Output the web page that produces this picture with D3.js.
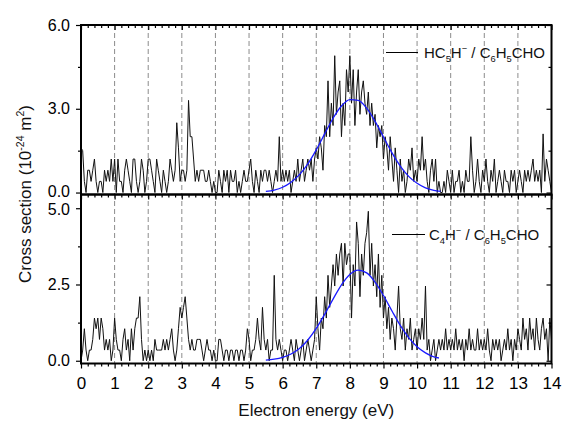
<!DOCTYPE html>
<html lang="en">
<head>
<meta charset="UTF-8">
<title>Cross section vs electron energy</title>
<script src="https://d3js.org/d3.v7.min.js"></script>
<style>
  body { margin: 0; background: white; }
  svg { font-family: "Liberation Sans", Arial, sans-serif; }
</style>
</head>
<body>
<svg id="chart" width="563" height="421"></svg>
<script>
// energy grid: 0 .. 14 eV, 0.05 eV per channel
const eStep = 0.05;

// HC5H- / C6H5CHO (upper panel), one row per eV
const topSignal = [
  1.6,1.5,0.4,0,0.8,0.8,0.4,0.8,1.2,0.4,0,0.4,0.4,0,0.8,0.4,0.8,0.4,1.2,0.4,
  1.2,0,1.2,0.4,0.4,0,0.8,1.2,0.8,0.4,0,1.2,1.2,0.4,0,0.4,1.2,0.8,0,0.4,
  1.2,1.2,0.8,0.4,0,1.2,0.8,0.4,0,0.8,0.4,0,0.4,1.2,0.8,0.4,0.8,2.5,1.6,0.4,
  0.8,0.8,0.4,0.8,3.3,2.0,2.0,1.2,0.4,0.8,0.4,0.8,0.8,0.8,0.4,0.4,0.8,0.4,0,0.4,
  0,0,0.8,0.4,0,0.8,0.4,0.8,0,0.8,0.4,0.4,0.8,0,0.4,0,0.4,0.8,0.4,0.4,
  0.8,1.2,0.4,0,0.8,0.4,0,0.8,0.4,0.8,0.8,0.4,0.8,0.4,0,0.4,0.8,0.4,2.0,0.4,
  0.8,0.4,0.8,0.4,0.8,0,0.4,0.8,0.4,1.2,0.4,0.8,1.2,0.4,0.8,1.2,0.8,1.2,0.4,1.2,
  1.6,1.2,2.0,1.6,0.8,2.4,2.0,4.0,2.0,3.2,2.4,4.9,2.8,3.6,4.0,2.0,3.2,2.4,4.4,3.6,
  4.9,3.2,4.4,2.4,3.6,4.4,2.8,3.6,4.0,3.2,2.8,3.6,2.4,3.2,2.4,2.8,1.6,2.4,2.0,2.4,
  1.2,2.0,1.6,0.8,2.0,1.2,0.4,1.6,0.8,0,1.2,0.4,0.8,0,0.4,1.2,0.8,1.6,0.4,0.8,
  0.4,1.2,0.8,2.0,0.8,1.2,0.4,0,0.8,1.2,0.4,1.2,0,0.4,0,0,0.4,0,0.8,0.4,
  0,0.8,0,0.4,0.4,0.8,0,0.4,0,0.8,0.4,0.4,2.0,0.8,0,0.4,1.2,0.4,0,0.8,
  0.4,1.2,0.4,0,0.8,0.4,1.2,0,0.4,0.8,0.4,0,0.8,0.4,0.4,0,0.8,0.4,0.8,0,
  0.4,0.8,0.4,0,0.8,0.4,0.8,0.4,0.8,1.2,0.4,0.8,0.4,0.8,0,2.1,0.4,1.2,0.8,0.4,
  0
];

// C4H- / C6H5CHO (lower panel)
const bottomSignal = [
  0,0.35,1.05,0.35,0,0.35,0.35,0.7,1.4,1.05,1.4,0.7,1.4,1.05,0.35,0.7,0.35,0.7,0,0.35,
  1.4,0.7,0.35,0.35,0,0.7,1.05,0.35,0.7,0,1.05,0.35,1.05,1.4,1.4,2.1,0.7,0,0.35,0,
  0.35,0,0.35,0,0.7,0.35,0.35,0.35,0.35,0.7,0.35,0.7,0.35,0.7,1.05,0.35,0,0.35,1.05,1.75,
  1.4,1.75,2.1,1.4,0.7,0.35,0.7,0.35,0.35,0.7,0.7,0.7,0.35,0,0.35,0.7,0.35,0.35,0,0.35,
  0,0,0.7,0.7,0.35,0,0.35,0.35,0,0.35,0.35,0,0.35,0.35,0,0.35,0.35,0,0.35,1.05,
  0.7,0,0.35,0.35,0.7,1.4,0.7,0.35,1.75,0.7,0.35,0.7,0,0.35,0.35,2.8,0.7,0.35,0.7,0.35,
  0,0.35,0.35,0,0.35,0.7,0.35,0,0.7,0.35,0,0.35,0.7,0,0.35,0.7,0.35,0,0.35,0.7,
  2.1,1.05,0.35,1.4,1.05,2.1,1.4,2.8,1.75,2.45,3.15,2.45,3.5,2.8,3.5,3.85,2.45,3.85,3.15,3.5,
  3.5,1.4,3.15,2.45,4.55,3.85,2.1,3.5,2.8,3.85,4.2,4.9,2.8,3.85,2.45,3.15,2.1,3.5,1.75,2.8,
  1.4,2.1,1.05,1.75,0.7,1.4,1.05,0.35,1.4,2.45,1.05,0.7,1.4,0.35,1.05,0.7,1.4,0.35,0.7,1.05,
  0.35,1.05,0.7,1.4,0.7,2.45,0.35,0.7,0,0.35,0.7,0,0.35,0.7,0.35,0.7,0.35,1.05,0.35,0.7,
  0.35,0.7,0.35,1.05,0.35,0.7,0.35,0.7,0,0.7,0.35,1.05,0.35,0.7,0.35,0.35,1.05,0.35,0.7,0.35,
  0.7,0.35,1.05,0.35,0,0.7,0.35,0.7,0.35,0.7,0,0.35,0.7,0.35,1.05,0.35,0.7,0,0.7,0.35,
  1.05,0.7,0.35,1.4,0.7,1.05,0.35,1.4,0.7,1.05,0.35,1.4,0.7,0.35,1.05,1.4,0.7,1.05,0,1.4,
  0.7
];

// gaussian fits (blue)
const topFitE = [5.5,5.75,6,6.25,6.5,6.75,7,7.25,7.5,7.75,8,8.25,8.5,8.75,9,9.25,9.5,9.75,10,10.25,10.5,10.7];
const topFitY = [0.04,0.09,0.19,0.37,0.64,1.03,1.53,2.10,2.66,3.10,3.33,3.30,3.02,2.55,1.99,1.43,0.95,0.58,0.33,0.17,0.08,0.04];
const bottomFitE = [5.5,5.75,6,6.25,6.5,6.75,7,7.25,7.5,7.75,8,8.25,8.5,8.75,9,9.25,9.5,9.75,10,10.25,10.5,10.65];
const bottomFitY = [0.02,0.05,0.11,0.22,0.40,0.68,1.06,1.52,2.02,2.49,2.83,2.97,2.88,2.58,2.14,1.64,1.16,0.76,0.46,0.26,0.13,0.09];

const xTicks = [0,1,2,3,4,5,6,7,8,9,10,11,12,13,14];
const gridE = [1,2,3,4,5,6,7,8,9,10,11,12,13];
const topYTicks = [0, 3, 6];
const topYMinor = [1.5, 4.5];
const bottomYTicks = [0, 2.5, 5];
const bottomYMinor = [1.25, 3.75];

const svg = d3.select('#chart');
const left = 81, right = 551.5;
const topTop = 25, midY = 194.5, botBottom = 363.5;

const x = d3.scaleLinear().domain([0, 14]).range([left, right]);
const yTop = d3.scaleLinear().domain([-0.07, 6]).range([midY, topTop]);
const yBot = d3.scaleLinear().domain([-0.09, 5.45]).range([botBottom, midY]);

const minorX = d3.range(0, 70).map(i => i / 5).filter(v => v % 1 !== 0);

// dashed vertical grid lines
svg.append('g').selectAll('line')
  .data(gridE)
  .enter()
  .append('line')
  .attr('x1', d => x(d))
  .attr('x2', d => x(d))
  .attr('y1', topTop)
  .attr('y2', botBottom)
  .attr('stroke', '#8c8c8c')
  .attr('stroke-width', 1)
  .attr('stroke-dasharray', '5,3');

function series(values) {
  return values.map((v, i) => ({ e: i * eStep, v: v }));
}

function drawPanel(y, signal, fitE, fitY) {
  const line = d3.line().x(d => x(d.e)).y(d => y(d.v));
  svg.append('path')
    .datum(series(signal))
    .attr('d', line)
    .attr('fill', 'none')
    .attr('stroke', '#111')
    .attr('stroke-width', 1);

  const fit = fitE.map((e, i) => ({ e: e, v: fitY[i] }));
  svg.append('path')
    .datum(fit)
    .attr('d', line.curve(d3.curveMonotoneX))
    .attr('fill', 'none')
    .attr('stroke', '#1a1aff')
    .attr('stroke-width', 1.3);
}

drawPanel(yTop, topSignal, topFitE, topFitY);
drawPanel(yBot, bottomSignal, bottomFitE, bottomFitY);

function styleAxis(g, size) {
  g.select('.domain').remove();
  g.selectAll('line').attr('stroke', '#000').attr('stroke-width', 1.2);
  g.selectAll('text')
    .attr('font-size', size || 17)
    .attr('font-family', '"Liberation Sans", Arial, sans-serif')
    .attr('fill', '#000');
}

function addAxis(axis, tx, ty, size) {
  return svg.append('g')
    .attr('transform', `translate(${tx},${ty})`)
    .call(axis)
    .call(g => styleAxis(g, size));
}

const fmt = d3.format('.1f');

// left axes, ticks outward
const leftTop = addAxis(d3.axisLeft(yTop).tickValues(topYTicks).tickSize(5).tickPadding(6).tickFormat(fmt), left, 0, 16);
addAxis(d3.axisLeft(yTop).tickValues(topYMinor).tickSize(3).tickFormat(''), left, 0);
const leftBot = addAxis(d3.axisLeft(yBot).tickValues(bottomYTicks).tickSize(5).tickPadding(6).tickFormat(fmt), left, 0, 16);
addAxis(d3.axisLeft(yBot).tickValues(bottomYMinor).tickSize(3).tickFormat(''), left, 0);
// the "0.0" of the upper panel and "5.0" of the lower one sit close together
leftTop.selectAll('text').filter(d => d === 0).attr('y', -1.5);
leftBot.selectAll('text').filter(d => d === 5).attr('y', 1.5);

// right axes, ticks inward
addAxis(d3.axisRight(yTop).tickValues(topYTicks).tickSize(-5).tickFormat(''), right, 0);
addAxis(d3.axisRight(yTop).tickValues(topYMinor).tickSize(-3).tickFormat(''), right, 0);
addAxis(d3.axisRight(yBot).tickValues(bottomYTicks).tickSize(-5).tickFormat(''), right, 0);
addAxis(d3.axisRight(yBot).tickValues(bottomYMinor).tickSize(-3).tickFormat(''), right, 0);

// top of upper panel and top of lower panel, ticks pointing down
[topTop, midY].forEach(yy => {
  addAxis(d3.axisTop(x).tickValues(xTicks).tickSize(-5).tickFormat(''), 0, yy);
  addAxis(d3.axisTop(x).tickValues(minorX).tickSize(-3).tickFormat(''), 0, yy);
});

// bottom axis, ticks outward with labels
addAxis(d3.axisBottom(x).tickValues(xTicks).tickSize(5).tickPadding(8.5).tickFormat(d3.format('d')), 0, botBottom);
addAxis(d3.axisBottom(x).tickValues(minorX).tickSize(3).tickFormat(''), 0, botBottom);

// frames
[[topTop, midY], [midY, botBottom]].forEach(([a, b]) => {
  svg.append('rect')
    .attr('x', left)
    .attr('y', a)
    .attr('width', right - left)
    .attr('height', b - a)
    .attr('fill', 'none')
    .attr('stroke', '#000')
    .attr('stroke-width', 2);
});

// text with sub/superscripts
function richText(parent, xPos, yPos, size, parts, rotate) {
  const t = parent.append('text')
    .attr('x', xPos)
    .attr('y', yPos)
    .attr('font-size', size)
    .attr('fill', '#111');
  if (rotate) {
    t.attr('transform', `rotate(-90,${xPos},${yPos})`).attr('text-anchor', 'middle');
  }
  let shift = 0;
  parts.forEach(([s, kind]) => {
    let target = 0;
    let fs = size;
    if (kind === 'sub') { target = size * 0.28; fs = size * 0.62; }
    if (kind === 'sup') { target = -size * 0.4; fs = size * 0.62; }
    t.append('tspan')
      .attr('dy', target - shift)
      .attr('font-size', fs)
      .text(s);
    shift = target;
  });
  return t;
}

// legends
svg.append('line').attr('x1', 386).attr('x2', 418).attr('y1', 52.5).attr('y2', 52.5)
  .attr('stroke', '#000').attr('stroke-width', 1);
richText(svg, 424, 58, 15, [['HC'], ['5', 'sub'], ['H'], ['\u2212', 'sup'], [' / C'], ['6', 'sub'], ['H'], ['5', 'sub'], ['CHO']]);

svg.append('line').attr('x1', 392).attr('x2', 425).attr('y1', 234.5).attr('y2', 234.5)
  .attr('stroke', '#000').attr('stroke-width', 1);
richText(svg, 429, 240, 15, [['C'], ['4', 'sub'], ['H'], ['\u2212', 'sup'], [' / C'], ['6', 'sub'], ['H'], ['5', 'sub'], ['CHO']]);

// axis titles
svg.append('text')
  .attr('x', (left + right) / 2)
  .attr('y', 416)
  .attr('text-anchor', 'middle')
  .attr('font-size', 17)
  .attr('fill', '#111')
  .text('Electron energy (eV)');

richText(svg, 31, 194, 17, [['Cross section (10'], ['-24', 'sup'], [' m'], ['2', 'sup'], [')']], true);
</script>
</body>
</html>
